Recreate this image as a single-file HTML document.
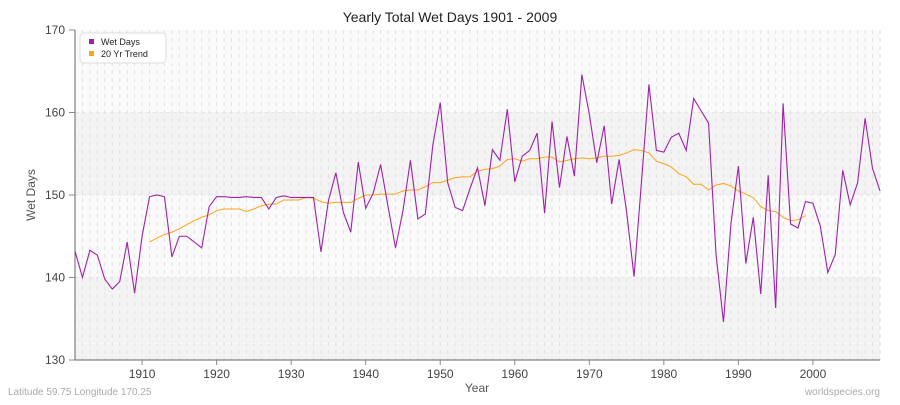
<!DOCTYPE html>
<html><head><meta charset="utf-8"><style>
body{margin:0;background:#fff;font-family:"Liberation Sans",sans-serif}
</style></head><body>
<svg id="s" width="900" height="400" xmlns="http://www.w3.org/2000/svg" font-family="Liberation Sans, sans-serif"></svg>
<script>
const W=[143.2,140,143.3,142.7,139.8,138.6,139.5,144.3,138.1,145,149.8,150,149.8,142.5,145,145,144.3,143.6,148.6,149.8,149.8,149.7,149.7,149.8,149.7,149.7,148.3,149.7,149.9,149.7,149.7,149.7,149.7,143.1,149.3,152.7,147.9,145.5,154,148.4,150.2,153.7,148.6,143.6,148.1,154.2,147.1,147.7,156,161.2,151.5,148.5,148.1,150.8,153.3,148.7,155.5,154.2,160.4,151.6,154.7,155.4,157.5,147.8,158.9,150.9,157.1,152.3,164.6,159.8,153.9,158.4,148.9,154.3,148,140.1,151.6,163.4,155.4,155.2,157,157.5,155.4,161.7,160.2,158.7,142.8,134.6,146.5,153.5,141.7,147.3,138,152.4,136.3,161.1,146.5,146,149.2,149,146.2,140.6,142.8,153,148.8,151.5,159.3,153.2,150.5];
const T=[144.3,144.8,145.2,145.5,145.9,146.4,146.9,147.3,147.6,148.1,148.3,148.3,148.3,148.0,148.3,148.7,148.9,148.9,149.4,149.4,149.4,149.7,149.6,149.2,149.0,149.1,149.1,149.1,149.6,150.0,150.0,150.1,150.1,150.1,150.5,150.6,150.6,151.0,151.5,151.5,151.8,152.1,152.2,152.2,152.9,153.1,153.2,153.5,154.3,154.4,154.1,154.4,154.4,154.6,154.6,154.0,154.2,154.4,154.5,154.4,154.5,154.7,154.7,154.8,155.1,155.5,155.4,155.1,154.1,153.8,153.4,152.6,152.2,151.3,151.3,150.6,151.2,151.4,151.1,150.5,150.1,149.7,148.6,148.1,148.0,147.3,146.9,147.0,147.5];
const X=y=>75+(y-1901)*805/108, Y=v=>30+(170-v)*8.25;
let h='';
h+=`<rect x="75" y="30" width="805" height="82.5" fill="#fafafa"/><rect x="75" y="112.5" width="805" height="82.5" fill="#f3f3f3"/><rect x="75" y="195" width="805" height="82.5" fill="#fafafa"/><rect x="75" y="277.5" width="805" height="82.5" fill="#f3f3f3"/>`;
for(let y=1902;y<=2009;y++)h+=`<line x1="${X(y)}" y1="30" x2="${X(y)}" y2="360" stroke="#e2e2e2" stroke-dasharray="4,4"/>`;
for(let v=132;v<170;v+=2)if(v%10)h+=`<line x1="75" y1="${Y(v)}" x2="880" y2="${Y(v)}" stroke="#fff" stroke-dasharray="4,4" opacity="0.6"/>`;
[140,150,160].forEach(v=>h+=`<line x1="75" y1="${Y(v)}" x2="880" y2="${Y(v)}" stroke="#e6e6e6" stroke-dasharray="4,3"/>`);
h+=`<line x1="75" y1="30" x2="75" y2="360" stroke="#666"/><line x1="75" y1="360" x2="880" y2="360" stroke="#666"/>`;
[130,140,150,160,170].forEach(v=>{h+=`<line x1="69" y1="${Y(v)}" x2="75" y2="${Y(v)}" stroke="#888"/><text x="65" y="${Y(v)+4}" text-anchor="end" font-size="12" fill="#444">${v}</text>`});
for(let y=1910;y<=2000;y+=10)h+=`<line x1="${X(y)}" y1="360" x2="${X(y)}" y2="365" stroke="#888"/><text x="${X(y)}" y="378" text-anchor="middle" font-size="12" fill="#444">${y}</text>`;
h+=`<polyline fill="none" stroke="#ffa31a" stroke-width="1" points="${T.map((v,i)=>X(1911+i)+','+Y(v)).join(' ')}"/>`;
h+=`<polyline fill="none" stroke="#a020a8" stroke-width="1.1" points="${W.map((v,i)=>X(1901+i)+','+Y(v)).join(' ')}"/>`;
h+=`<text x="450" y="22" text-anchor="middle" font-size="14" fill="#222">Yearly Total Wet Days 1901 - 2009</text>`;
h+=`<text x="35" y="195" text-anchor="middle" font-size="12" fill="#555" transform="rotate(-90 35 195)">Wet Days</text>`;
h+=`<text x="477" y="392" text-anchor="middle" font-size="12" fill="#555">Year</text>`;
h+=`<text x="8" y="395" font-size="10" fill="#aaa">Latitude 59.75 Longitude 170.25</text><text x="880" y="395" text-anchor="end" font-size="10" fill="#aaa">worldspecies.org</text>`;
h+=`<rect x="80" y="33" width="86" height="30" rx="4" fill="#fff" stroke="#ddd"/><rect x="89" y="39" width="5" height="5" fill="#a020a8"/><text x="101" y="45" font-size="9" fill="#222">Wet Days</text><rect x="89" y="51" width="5" height="5" fill="#ffa31a"/><text x="101" y="57" font-size="9" fill="#222">20 Yr Trend</text>`;
document.getElementById('s').innerHTML=h;
</script>
</body></html>
